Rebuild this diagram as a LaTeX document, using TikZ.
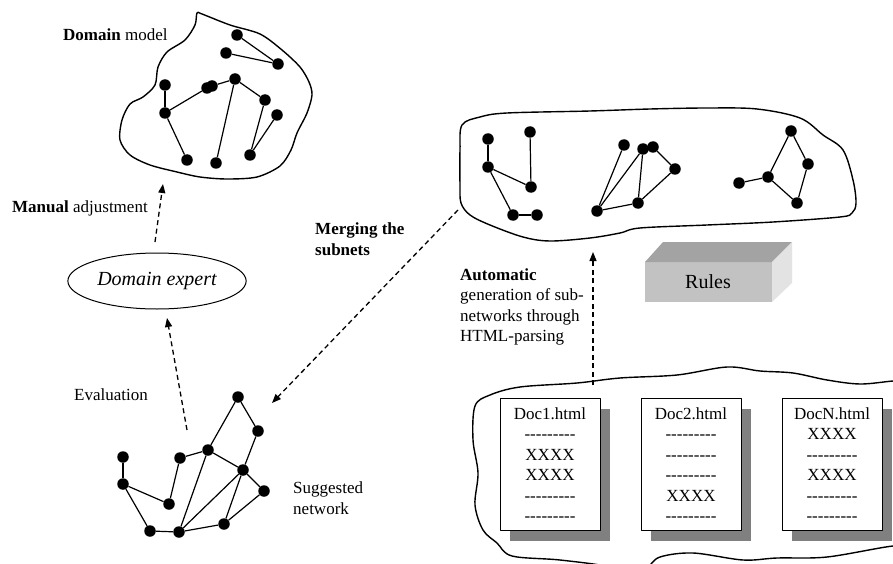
\documentclass[tikz,border=0pt]{standalone}
\usepackage{fontspec}
\setmainfont{Liberation Serif}
\usetikzlibrary{arrows.meta,shadows,shapes.geometric}
\tikzset{
	dot/.style={circle, fill=black, inner sep=0pt, minimum size=11.5pt},
	link/.style={line width=1.2pt},
	flow/.style={line width=1.3pt, dash pattern=on 5pt off 3.5pt, -{Triangle[length=9pt,width=7pt]}},
	lbl/.style={font=\fontsize{17}{20.5}\selectfont, inner sep=0pt},
	page/.style={draw, fill=white, line width=1pt, minimum width=100pt, minimum height=132pt, anchor=north, align=center, font=\fontsize{17}{20.5}\selectfont, drop shadow={shadow xshift=10pt, shadow yshift=-10pt, fill=black!50, opacity=1}}
}
\newcommand{\dashrow}{-{}-{}-{}-{}-{}-{}-{}-{}-}
\begin{document}
\begin{tikzpicture}[x=1pt, y=-1pt, line join=round]
	\useasboundingbox (0,0) rectangle (893,564);
	% domain model
	\draw[line width=1.4pt] plot[smooth cycle, tension=0.5] coordinates {(197,13) (202,14) (230,25) (260,34) (282,50) (300,67) (309,82) (312,95) (307,113) (297,133) (291,150) (280,166) (257,177) (227,179) (200,177) (177,172) (150,165) (130,155) (120,140) (122,120) (130,104) (143,97) (155,85) (158,67) (167,52) (185,40) (195,25)};
	\node[lbl, anchor=west] (modelText) at (63,35) {\textbf{Domain} model};
	\node[dot] (dmA) at (237,35) {};
	\node[dot] (dmB) at (226,53) {};
	\node[dot] (dmC) at (278,64) {};
	\node[dot] (dmD) at (165,85) {};
	\node[dot] (dmE) at (165,113) {};
	\node[dot] (dmF) at (207,88) {};
	\node[dot] (dmF2) at (212,86) {};
	\node[dot] (dmG) at (235,79) {};
	\node[dot] (dmH) at (265,100) {};
	\node[dot] (dmI) at (277,115) {};
	\node[dot] (dmJ) at (187,160) {};
	\node[dot] (dmK) at (216,163) {};
	\node[dot] (dmL) at (250,155) {};
	\draw[link] (dmA) -- (dmC);
	\draw[link] (dmB) -- (dmC);
	\draw[link] (dmD) -- (dmE);
	\draw[link] (dmE) -- (dmF);
	\draw[link] (dmF2) -- (dmG);
	\draw[link] (dmE) -- (dmJ);
	\draw[link] (dmG) -- (dmK);
	\draw[link] (dmG) -- (dmH);
	\draw[link] (dmH) -- (dmL);
	\draw[link] (dmI) -- (dmL);
	% domain expert
	\node[ellipse, draw, line width=1pt, minimum width=170pt, minimum height=56pt, font=\fontsize{20}{24}\selectfont\itshape] (expert) at (157,281) {Domain expert};
	\node[lbl, anchor=west] (manualText) at (12,208) {\textbf{Manual} adjustment};
	\node[lbl, anchor=west] (evalText) at (74,395) {Evaluation};
	\coordinate (modelIn) at (163,184);
	\coordinate (expertOut) at (155,242);
	\coordinate (expertIn) at (167,318);
	\coordinate (netOut) at (187,430);
	\draw[flow] (expertOut) -- (modelIn);
	\draw[flow] (netOut) -- (expertIn);
	% suggested network
	\node[dot] (snA) at (238,397) {};
	\node[dot] (snB) at (258,431) {};
	\node[dot] (snC) at (208,450) {};
	\node[dot] (snD) at (180,458) {};
	\node[dot] (snE) at (123,457) {};
	\node[dot] (snF) at (123,484) {};
	\node[dot] (snG) at (169,504) {};
	\node[dot] (snH) at (243,470) {};
	\node[dot] (snI) at (264,491) {};
	\node[dot] (snJ) at (150,531) {};
	\node[dot] (snK) at (179,532) {};
	\node[dot] (snL) at (224,524) {};
	\draw[link] (snA) -- (snB);
	\draw[link] (snA) -- (snC);
	\draw[link] (snB) -- (snH);
	\draw[link] (snC) -- (snD);
	\draw[link] (snC) -- (snH);
	\draw[link] (snD) -- (snG);
	\draw[link] (snE) -- (snF);
	\draw[link] (snF) -- (snG);
	\draw[link] (snF) -- (snJ);
	\draw[link] (snJ) -- (snK);
	\draw[link] (snK) -- (snC);
	\draw[link] (snK) -- (snH);
	\draw[link] (snK) -- (snL);
	\draw[link] (snL) -- (snH);
	\draw[link] (snL) -- (snI);
	\draw[link] (snH) -- (snI);
	\node[lbl, anchor=west, align=left] (suggestText) at (293,498) {Suggested\\network};
	% subnets
	\draw[line width=1.4pt] plot[smooth cycle, tension=0.55] coordinates {(462,125) (480,117) (507,113) (590,111) (650,109) (707,108) (757,109) (800,118) (823,135) (843,150) (853,180) (856,203) (852,213) (840,217) (773,222) (707,225) (640,228) (620,233) (590,238) (550,241) (523,237) (490,225) (470,215) (461,203) (460,185) (460,150)};
	\node[dot] (sbA) at (488,139) {};
	\node[dot] (sbB) at (530,132) {};
	\node[dot] (sbC) at (488,167) {};
	\node[dot] (sbD) at (531,187) {};
	\node[dot] (sbE) at (513,215) {};
	\node[dot] (sbF) at (537,215) {};
	\draw[link] (sbA) -- (sbC);
	\draw[link] (sbB) -- (sbD);
	\draw[link] (sbC) -- (sbD);
	\draw[link] (sbC) -- (sbE);
	\draw[link] (sbE) -- (sbF);
	\node[dot] (sbG) at (624,145) {};
	\node[dot] (sbH) at (643,149) {};
	\node[dot] (sbI) at (653,147) {};
	\node[dot] (sbJ) at (675,169) {};
	\node[dot] (sbK) at (638,203) {};
	\node[dot] (sbL) at (597,211) {};
	\draw[link] (sbL) -- (sbG);
	\draw[link] (sbL) -- (sbH);
	\draw[link] (sbL) -- (sbK);
	\draw[link] (sbH) -- (sbK);
	\draw[link] (sbI) -- (sbJ);
	\draw[link] (sbJ) -- (sbK);
	\node[dot] (sbM) at (791,131) {};
	\node[dot] (sbN) at (808,164) {};
	\node[dot] (sbO) at (768,177) {};
	\node[dot] (sbP) at (739,183) {};
	\node[dot] (sbQ) at (797,203) {};
	\draw[link] (sbM) -- (sbN);
	\draw[link] (sbM) -- (sbO);
	\draw[link] (sbO) -- (sbP);
	\draw[link] (sbO) -- (sbQ);
	\draw[link] (sbQ) -- (sbN);
	\node[lbl, anchor=west, align=left, font=\fontsize{17}{21}\selectfont\bfseries] (mergeText) at (315,239.5) {Merging the\\subnets};
	\coordinate (subnetOut) at (458,210);
	\coordinate (netIn) at (272,403);
	\draw[flow] (subnetOut) -- (netIn);
	% rules
	\fill[black!24] (645,262) rectangle (772,302);
	\fill[black!36] (645,262) -- (663,242) -- (792,242) -- (772,262) -- cycle;
	\fill[black!11] (772,262) -- (792,242) -- (792,283) -- (772,302) -- cycle;
	\node[font=\fontsize{20}{24}\selectfont] (rules) at (708,282) {Rules};
	% html documents
	\node[lbl, anchor=west, align=left] (autoText) at (460,307) {\textbf{Automatic}\\generation of sub-\\networks through\\HTML-parsing};
	\coordinate (docsOut) at (593,385);
	\coordinate (subnetIn) at (593,252);
	\draw[flow] (docsOut) -- (subnetIn);
	\draw[line width=1.4pt] plot[smooth cycle, tension=0.55] coordinates {(475,406) (490,395) (520,387) (577,383) (620,378) (677,375) (727,367) (760,371) (793,373) (827,380) (860,384) (893,381) (915,380) (915,548) (893,546) (827,557) (777,558) (743,560) (693,553) (660,557) (647,568) (630,578) (610,567) (560,560) (512,556) (497,543) (483,530) (475,505) (478,473) (473,440)};
	\node[page] (docA) at (550,398) {Doc1.html\\\dashrow\\XXXX\\XXXX\\\dashrow\\\dashrow};
	\node[page] (docB) at (691,398) {Doc2.html\\\dashrow\\\dashrow\\\dashrow\\XXXX\\\dashrow};
	\node[page] (docN) at (832,398) {DocN.html\\XXXX\\\dashrow\\XXXX\\\dashrow\\\dashrow};
\end{tikzpicture}
\end{document}
